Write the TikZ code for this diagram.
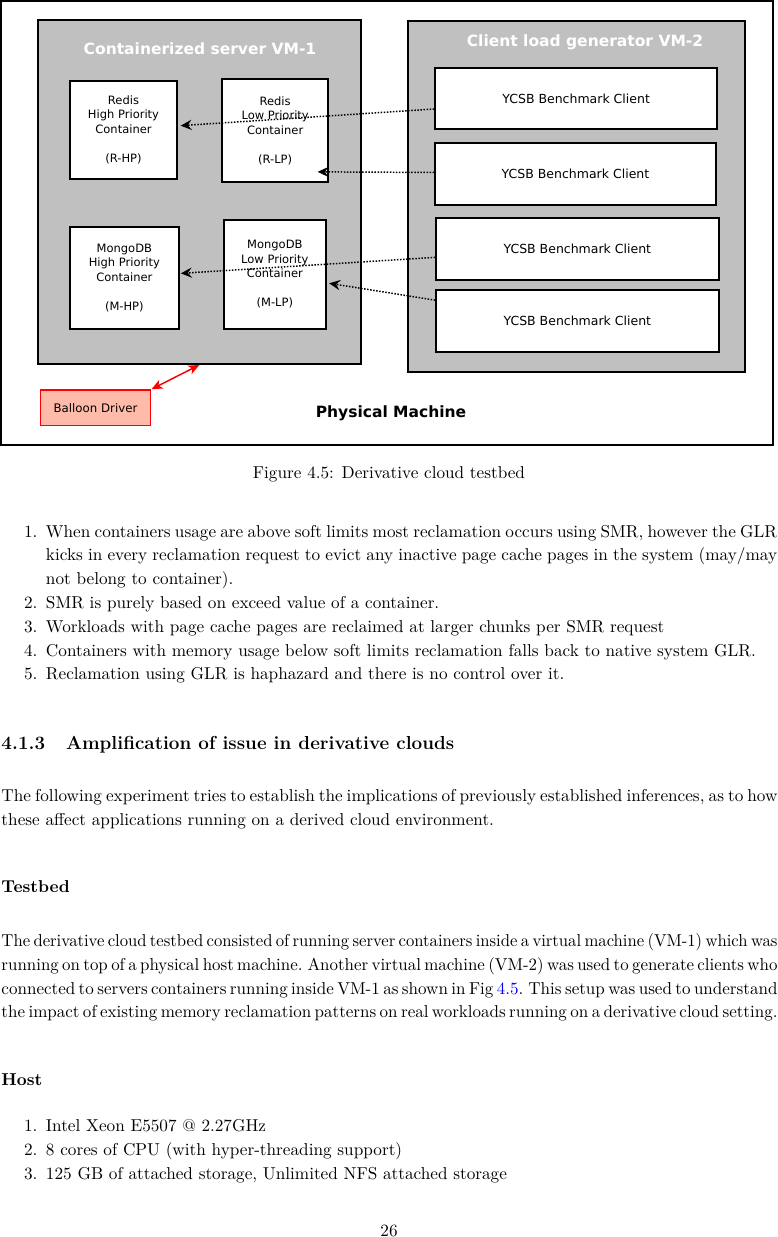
\documentclass[tikz,border=0pt]{standalone}
\usepackage{fontspec}
\usepackage{graphicx}
\newfontfamily\dv{DejaVu Sans}
\usetikzlibrary{arrows.meta,calc,fit}
\definecolor{vmgray}{RGB}{192,192,192}
\definecolor{balloonfill}{RGB}{255,187,170}
\newcommand\bodyfont{\fontsize{10.95}{15.3}\selectfont}
\newcommand\smallsans{\dv\fontsize{7.32}{9.23}\selectfont}
\newcommand\ycsbfont{\dv\fontsize{7.96}{9.5}\selectfont}
\newcommand\titlefont{\dv\bfseries\fontsize{9.87}{12}\selectfont}
\newsavebox\jbox
\newlength\jw
% justified line: fits text to width #1 (stretch spaces, or compress slightly if too long)
\newcommand\jl[2]{%
  \setlength\jw{#1}%
  \sbox\jbox{\spaceskip=0.2em plus 1em\relax\xspaceskip=0.3em plus 1.2em\relax #2}%
  \ifdim\wd\jbox>\jw
    \pgfmathsetmacro\jratio{\jw/\wd\jbox}%
    \scalebox{\jratio}[1]{\usebox\jbox}%
  \else
    \makebox[\jw][s]{\spaceskip=0.2em plus 1em\relax\xspaceskip=0.3em plus 1.2em\relax #2}%
  \fi}
\begin{document}
\begin{tikzpicture}[x=0.6366pt,y=-0.6366pt,
  txt/.style={inner sep=0,outer sep=0,anchor=base west,font=\bodyfont},
  lbl/.style={inner sep=0,outer sep=0,anchor=base east,font=\bodyfont},
  outerbox/.style={draw=black,line width=1.4pt,inner sep=0},
  vmbox/.style={draw=black,fill=vmgray,line width=1.2pt,inner sep=0},
  cbox/.style={draw=black,fill=white,line width=1.1pt,inner sep=0},
  ctext/.style={inner sep=0,align=center,font=\smallsans},
  ytext/.style={inner sep=0,font=\ycsbfont},
  conn/.style={densely dotted,line width=0.95pt,-{Stealth[length=7pt,width=6.5pt,inset=2.5pt]}},
  redconn/.style={red,line width=0.95pt,{Stealth[length=7pt,width=6pt,inset=2pt]}-{Stealth[length=7pt,width=6pt,inset=2pt]}}
]
\useasboundingbox (0,0) rectangle (778,1237);
% ---------------- diagram ----------------
\node[outerbox,fit={(1.2,1.2) (773,445)}] (pm) {};
\node[vmbox,fit={(37.7,20) (361,364)}] (vm1) {};
\node[vmbox,fit={(407.7,20.7) (745.3,371.7)}] (vm2) {};
\node[font=\titlefont,text=white,anchor=base,inner sep=0] (t1) at (200,54) {Containerized server VM-1};
\node[font=\titlefont,text=white,anchor=base,inner sep=0] (t2) at (585,46.7) {Client load generator VM-2};
\node[font=\titlefont,anchor=base,inner sep=0] (t3) at (391,417) {Physical Machine};

\node[cbox,fit={(69.7,80.7) (177.3,179)}] (rhp) {};
\node[cbox,fit={(222,79.3) (328.3,182)}] (rlp) {};
\node[cbox,fit={(69.7,226.7) (179,329)}] (mhp) {};
\node[cbox,fit={(223.7,220) (326,329)}] (mlp) {};
\node[ctext] (rhpt) at (rhp.center) {Redis\\High Priority\\Container\\[9.23pt](R-HP)};
\node[ctext] (rlpt) at (rlp.center) {Redis\\Low Priority\\Container\\[9.23pt](R-LP)};
\node[ctext] (mhpt) at (mhp.center) {MongoDB\\High Priority\\Container\\[9.23pt](M-HP)};
\node[ctext] (mlpt) at (mlp.center) {MongoDB\\Low Priority\\Container\\[9.23pt](M-LP)};

\node[cbox,fit={(435,67.7) (717.3,129.3)}] (y1) {};
\node[cbox,fit={(435,143.3) (716,205)}] (y2) {};
\node[cbox,fit={(436,217.7) (718.7,280)}] (y3) {};
\node[cbox,fit={(436,290) (718.7,352.3)}] (y4) {};
\node[ytext] (y1t) at (y1.center) {YCSB Benchmark Client};
\node[ytext] (y2t) at (y2.center) {YCSB Benchmark Client};
\node[ytext] (y3t) at (y3.center) {YCSB Benchmark Client};
\node[ytext] (y4t) at (y4.center) {YCSB Benchmark Client};

\node[draw=red,fill=balloonfill,line width=1pt,inner sep=0,fit={(40.3,390) (150.7,425.7)}] (bd) {};
\node[inner sep=0,font=\dv\fontsize{7.5}{9}\selectfont] (bdt) at (bd.center) {Balloon Driver};

\draw[conn] ($(y1.west)+(0,10.5)$) -- ($(rhp.east)+(2.5,-4.2)$);
\draw[conn] ($(y2.west)+(0,-1.7)$) -- ($(rlp.south east)+(-11.5,-11)$);
\draw[conn] ($(y3.west)+(0,8.5)$) -- ($(mhp.east)+(1,-4.5)$);
\draw[conn] ($(y4.west)+(0,-21)$) -- ($(mlp.east)+(2.3,8.8)$);
\draw[redconn] (bd.north east) -- (vm1.south);

% ---------------- text ----------------
\node[font=\bodyfont,anchor=base,inner sep=0] (cap) at (389,478) {Figure 4.5: Derivative cloud testbed};

\node[lbl] (n1) at (37.4,537) {1.};
\node[txt] (i1a) at (46,537) {\jl{465.4pt}{When containers usage are above soft limits most reclamation occurs using SMR, however the GLR}};
\node[txt] (i1b) at (46,560.8) {\jl{465.4pt}{kicks in every reclamation request to evict any inactive page cache pages in the system (may/may}};
\node[txt] (i1c) at (46,584.6) {not belong to container).};
\node[lbl] (n2) at (37.4,608.4) {2.};
\node[txt] (i2) at (46,608.4) {SMR is purely based on exceed value of a container.};
\node[lbl] (n3) at (37.4,632.2) {3.};
\node[txt] (i3) at (46,632.2) {Workloads with page cache pages are reclaimed at larger chunks per SMR request};
\node[lbl] (n4) at (37.4,656) {4.};
\node[txt] (i4) at (46,656) {Containers with memory usage below soft limits reclamation falls back to native system GLR.};
\node[lbl] (n5) at (37.4,679.8) {5.};
\node[txt] (i5) at (46,679.8) {Reclamation using GLR is haphazard and there is no control over it.};

\node[txt,font=\fontsize{12}{14}\selectfont\bfseries] (hn) at (1.5,749.5) {4.1.3};
\node[txt,font=\fontsize{12}{14}\selectfont\bfseries] (ht) at (66,749.5) {Amplification of issue in derivative clouds};

\node[txt] (p1a) at (1.5,801.5) {\jl{494pt}{The following experiment tries to establish the implications of previously established inferences, as to how}};
\node[txt] (p1b) at (1.5,825.3) {these affect applications running on a derived cloud environment.};

\node[txt,font=\bodyfont\bfseries] (tb) at (1.5,892.7) {Testbed};

\node[txt] (p2a) at (1.5,946.8) {\jl{494pt}{The derivative cloud testbed consisted of running server containers inside a virtual machine (VM-1) which was}};
\node[txt] (p2b) at (1.5,970.5) {\jl{494pt}{running on top of a physical host machine. Another virtual machine (VM-2) was used to generate clients who}};
\node[txt] (p2c) at (1.5,994.1) {\jl{494pt}{connected to servers containers running inside VM-1 as shown in Fig \textcolor{blue}{4.5}. This setup was used to understand}};
\node[txt] (p2d) at (1.5,1017.8) {\jl{494pt}{the impact of existing memory reclamation patterns on real workloads running on a derivative cloud setting.}};

\node[txt,font=\bodyfont\bfseries] (hs) at (1.5,1085) {Host};

\node[lbl] (h1n) at (37.4,1131.7) {1.};
\node[txt] (h1) at (46,1131.7) {Intel Xeon E5507 @ 2.27GHz};
\node[lbl] (h2n) at (37.4,1155.3) {2.};
\node[txt] (h2) at (46,1155.3) {8 cores of CPU (with hyper-threading support)};
\node[lbl] (h3n) at (37.4,1179) {3.};
\node[txt] (h3) at (46,1179) {125 GB of attached storage, Unlimited NFS attached storage};

\node[font=\bodyfont,anchor=base,inner sep=0] (pg) at (389,1236) {26};
\end{tikzpicture}
\end{document}
